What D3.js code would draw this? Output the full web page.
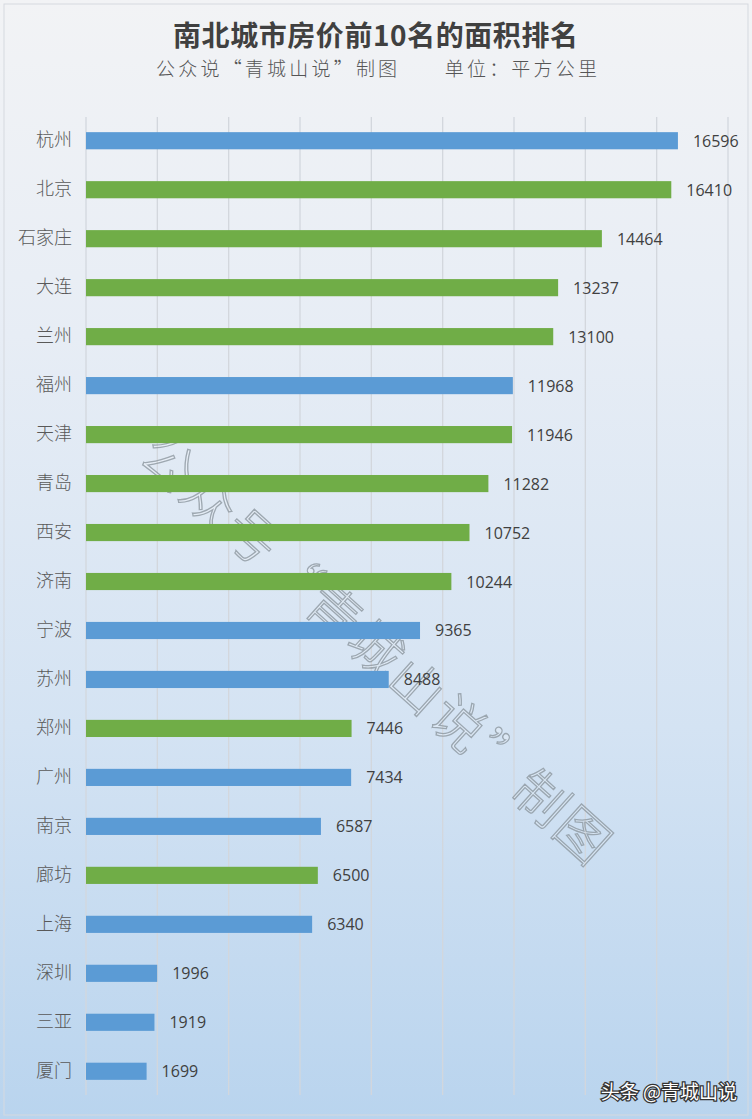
<!DOCTYPE html>
<html><head><meta charset="utf-8">
<script src="https://cdn.jsdelivr.net/npm/d3@7/dist/d3.min.js"></script>
<style>body{margin:0;padding:0;} svg{display:block;}</style>
</head><body>
<script>
const cities = ["杭州","北京","石家庄","大连","兰州","福州","天津","青岛","西安","济南","宁波","苏州","郑州","广州","南京","廊坊","上海","深圳","三亚","厦门"];
const areas = [16596,16410,14464,13237,13100,11968,11946,11282,10752,10244,9365,8488,7446,7434,6587,6500,6340,1996,1919,1699];
const regions = ["南","北","北","北","北","南","北","北","北","北","南","南","北","南","南","北","南","南","南","南"];
const gridTicks = [0,2000,4000,6000,8000,10000,12000,14000,16000,18000];
const title = "南北城市房价前10名的面积排名";
const subtitle = "公众说“青城山说”制图　　单位：平方公里";
const watermark = "公众号“青城山说”制图";

const W = 752, H = 1119;
const svg = d3.select("body").append("svg").attr("width", W).attr("height", H);
const defs = svg.append("defs");
const bg = defs.append("linearGradient").attr("id","bg").attr("x1",0).attr("y1",0).attr("x2",0).attr("y2",1);
bg.append("stop").attr("offset","0%").attr("stop-color","#f2f3f5");
bg.append("stop").attr("offset","30%").attr("stop-color","#e7edf5");
bg.append("stop").attr("offset","65%").attr("stop-color","#d4e3f3");
bg.append("stop").attr("offset","100%").attr("stop-color","#b9d4ee");
svg.append("rect").attr("width",W).attr("height",H).attr("fill","url(#bg)");
svg.append("rect").attr("x",4).attr("y",4).attr("width",W-8).attr("height",H-8)
  .attr("fill","none").attr("stroke","#d5d9df").attr("stroke-width",1);

const x = d3.scaleLinear().domain([0,18000]).range([86,728]);
const y = d3.scaleBand().domain(cities).range([116,1096]).paddingInner(0.65).paddingOuter(0.33);

// grid
svg.append("g").selectAll("line").data(gridTicks).join("line")
  .attr("x1",d=>x(d)).attr("x2",d=>x(d)).attr("y1",117).attr("y2",1095)
  .attr("stroke","#d3d7dd").attr("stroke-width",1.3);

// watermark
svg.append("text").attr("transform","translate(378,646) rotate(42)")
  .attr("text-anchor","middle").attr("dominant-baseline","central")
  .attr("font-family","Noto Sans CJK SC").attr("font-weight",300).attr("font-size",53)
  .attr("fill","rgba(255,255,255,0.2)").attr("stroke","#87919a").attr("stroke-width",1.3).attr("stroke-opacity",0.75)
  .attr("textLength",610).attr("lengthAdjust","spacing")
  .text(watermark);

const colors = {"南":"#5b9bd5","北":"#70ad47"};
svg.append("g").selectAll("rect").data(cities).join("rect")
  .attr("x",x(0)).attr("y",d=>y(d)).attr("height",y.bandwidth())
  .attr("width",(d,i)=>x(areas[i])-x(0)).attr("fill",(d,i)=>colors[regions[i]]);

// category axis labels
const yAxis = d3.axisLeft(y).tickSize(0).tickPadding(14);
const ga = svg.append("g").attr("transform",`translate(${x(0)},0)`).call(yAxis);
ga.select(".domain").remove();
ga.selectAll("text").attr("font-family","Noto Sans CJK SC").attr("font-weight",300).attr("font-size",18).attr("fill","#595959");

// value labels
svg.append("g").selectAll("text").data(cities).join("text")
  .attr("x",(d,i)=>x(areas[i])+15).attr("y",d=>y(d)+y.bandwidth()/2)
  .attr("dominant-baseline","central")
  .attr("font-family","Open Sans, Liberation Sans, sans-serif").attr("font-size",16).attr("fill","#404040")
  .text((d,i)=>areas[i]);

// title
svg.append("text").attr("x",173).attr("y",46)
  .attr("font-family","Noto Sans CJK SC").attr("font-weight",700).attr("font-size",28).attr("fill","#404040")
  .attr("textLength",405).attr("lengthAdjust","spacing")
  .text(title);
svg.append("text").attr("x",156).attr("y",76)
  .attr("font-family","Noto Sans CJK SC").attr("font-weight",300).attr("font-size",19).attr("fill","#555")
  .attr("textLength",441).attr("lengthAdjust","spacing")
  .text(subtitle);

// credit
svg.append("text").attr("x",737).attr("y",1099).attr("text-anchor","end")
  .attr("font-family","Noto Sans CJK SC").attr("font-size",19).attr("fill","#fff")
  .attr("stroke","#333").attr("stroke-width",2.5).attr("paint-order","stroke")
  .text("头条 @青城山说");
</script>
</body></html>
